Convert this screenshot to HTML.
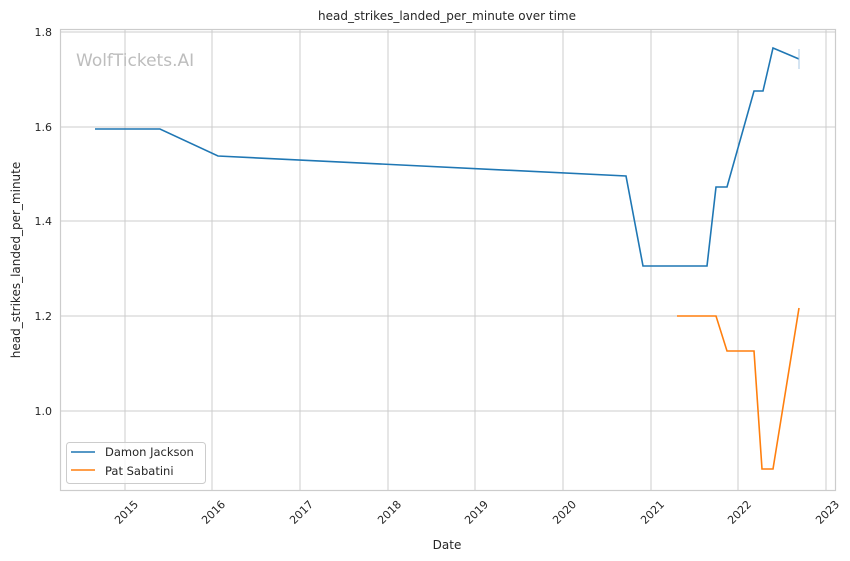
<!DOCTYPE html>
<html><head><meta charset="utf-8"><style>body{margin:0;background:#fff}svg{display:block}text{font-family:"DejaVu Sans","Liberation Sans",sans-serif;fill:#262626}</style></head><body>
<svg width="850" height="561" viewBox="0 0 850 561">
<rect width="850" height="561" fill="#fff"/>
<g stroke="#cccccc" stroke-width="1">
<line x1="125" y1="29" x2="125" y2="490"/><line x1="212" y1="29" x2="212" y2="490"/><line x1="300" y1="29" x2="300" y2="490"/><line x1="388" y1="29" x2="388" y2="490"/><line x1="475" y1="29" x2="475" y2="490"/><line x1="563" y1="29" x2="563" y2="490"/><line x1="651" y1="29" x2="651" y2="490"/><line x1="738" y1="29" x2="738" y2="490"/><line x1="826" y1="29" x2="826" y2="490"/>
<line x1="60" y1="32" x2="836" y2="32"/><line x1="60" y1="127" x2="836" y2="127"/><line x1="60" y1="221" x2="836" y2="221"/><line x1="60" y1="316" x2="836" y2="316"/><line x1="60" y1="411" x2="836" y2="411"/>
</g>
<rect x="60.5" y="29.5" width="775" height="461" fill="none" stroke="#cccccc" stroke-width="1.2"/>
<text x="76" y="66" font-size="17" style="fill:#bdbdbd">WolfTickets.AI</text>
<polyline fill="none" stroke="#1f77b4" stroke-width="1.6" points="95,129 160,129 218,156 626,176 643,266 707,266 716,187 727,187 754,91 763,91 773,48 799,59"/>
<line x1="799" y1="49" x2="799" y2="69" stroke="#a9c9e4" stroke-width="1"/>
<polyline fill="none" stroke="#ff7f0e" stroke-width="1.6" points="677,316 716,316 727,351 754,351 762,469 773,469 799,308"/>
<g font-size="11" text-anchor="end">
<text x="52" y="36">1.8</text><text x="52" y="131">1.6</text><text x="52" y="225">1.4</text><text x="52" y="320">1.2</text><text x="52" y="415">1.0</text>
</g>
<g font-size="11" text-anchor="end">
<text transform="translate(139,505) rotate(-45)">2015</text>
<text transform="translate(226,505) rotate(-45)">2016</text>
<text transform="translate(314,505) rotate(-45)">2017</text>
<text transform="translate(402,505) rotate(-45)">2018</text>
<text transform="translate(489,505) rotate(-45)">2019</text>
<text transform="translate(577,505) rotate(-45)">2020</text>
<text transform="translate(665,505) rotate(-45)">2021</text>
<text transform="translate(752,505) rotate(-45)">2022</text>
<text transform="translate(840,505) rotate(-45)">2023</text>
</g>
<text x="447" y="549" font-size="12" text-anchor="middle">Date</text>
<text transform="translate(20,260) rotate(-90)" font-size="12" text-anchor="middle">head_strikes_landed_per_minute</text>
<text x="447" y="20" font-size="12" text-anchor="middle">head_strikes_landed_per_minute over time</text>
<rect x="66.5" y="442.5" width="139" height="41" rx="3" fill="#fff" fill-opacity="0.8" stroke="#cccccc"/>
<line x1="71" y1="452" x2="95" y2="452" stroke="#1f77b4" stroke-width="1.6"/>
<line x1="71" y1="470" x2="95" y2="470" stroke="#ff7f0e" stroke-width="1.6"/>
<text x="105" y="456" font-size="11.5">Damon Jackson</text>
<text x="105" y="475" font-size="11.5">Pat Sabatini</text>
</svg>
</body></html>
